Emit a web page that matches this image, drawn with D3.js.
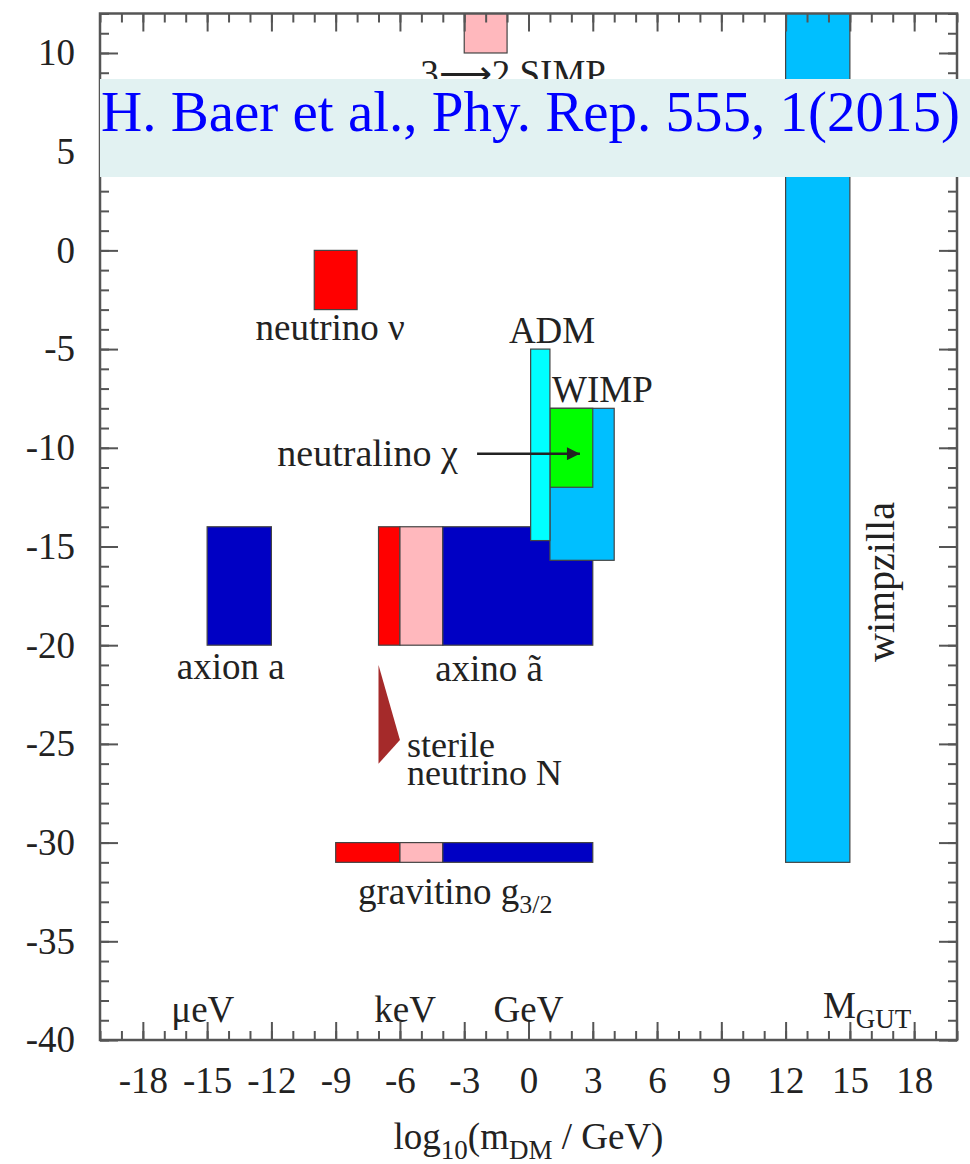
<!DOCTYPE html>
<html lang="en">
<head>
<meta charset="UTF-8">
<title>Dark matter candidates</title>
<script src="https://d3js.org/d3.v7.min.js"></script>
<style>
  body { margin: 0; background: #fff; }
  svg text { font-family: "Liberation Serif", "Times New Roman", serif; fill: #222; }
</style>
</head>
<body>
<script>
// candidate regions: log10(m/GeV) range and log10(sigma) range
const regionNames = ["axino hot", "axino warm", "axino cold", "WIMP", "neutralino", "ADM",
                     "SIMP", "neutrino", "axion", "gravitino hot", "gravitino warm", "gravitino cold", "wimpzilla"];
const massLo  = [-7, -6, -4, 1, 1, 0.1, -3, -10, -15, -9, -6, -4, 12];
const massHi  = [-6, -4, 3, 4, 3, 1, -1, -8, -12, -6, -4, 3, 15];
const sigmaLo = [-20, -20, -20, -15.7, -12, -14.7, 10, -3, -20, -31, -31, -31, -31];
const sigmaHi = [-14, -14, -14, -8, -8, -5, 14, 0, -14, -30, -30, -30, 14];
const regionKind = ["hot", "warm", "cold", "wimp", "neutralino", "adm",
                    "warm", "hot", "cold", "hot", "warm", "cold", "wimp"];

// sterile neutrino wedge
const sterileMass  = [-7, -6, -7];
const sterileSigma = [-21, -24.8, -26];

// neutralino arrow
const arrowMass  = [-2.4, 2.4];
const arrowSigma = [-10.3, -10.3];

// axes
const xTicks = [-18, -15, -12, -9, -6, -3, 0, 3, 6, 9, 12, 15, 18];
const yTicks = [-40, -35, -30, -25, -20, -15, -10, -5, 0, 5, 10];

const kindColor = {
  hot: "#ff0000", warm: "#ffb8bd", cold: "#0000c4",
  wimp: "#00bfff", neutralino: "#00ff00", adm: "#00ffff"
};

const W = 970, H = 1164;
const pLeft = 100, pRight = 957, pTop = 13.5, pBottom = 1040;

const x = d3.scaleLinear().domain([-20, 20]).range([pLeft, pRight]);
const y = d3.scaleLinear().domain([-40, 12]).range([pBottom, pTop]);

const svg = d3.select("body").append("svg")
  .attr("width", W).attr("height", H);

svg.append("rect").attr("width", W).attr("height", H).attr("fill", "#fff");

svg.append("clipPath").attr("id", "plot")
  .append("rect").attr("x", pLeft).attr("y", pTop)
  .attr("width", pRight - pLeft).attr("height", pBottom - pTop);

const plot = svg.append("g").attr("clip-path", "url(#plot)");

plot.selectAll("rect.region")
  .data(regionNames.map((n, i) => i))
  .enter().append("rect")
  .attr("class", "region")
  .attr("x", i => x(massLo[i]))
  .attr("width", i => x(massHi[i]) - x(massLo[i]))
  .attr("y", i => y(sigmaHi[i]))
  .attr("height", i => y(sigmaLo[i]) - y(sigmaHi[i]))
  .attr("fill", i => kindColor[regionKind[i]])
  .attr("stroke", "#444")
  .attr("stroke-width", 1.2);

plot.append("path")
  .attr("d", d3.line()(sterileMass.map((m, i) => [x(m), y(sterileSigma[i])])) + "Z")
  .attr("fill", "#a52a2a");

svg.append("defs").append("marker")
  .attr("id", "head").attr("viewBox", "0 0 10 10")
  .attr("refX", 10).attr("refY", 5)
  .attr("markerWidth", 6.5).attr("markerHeight", 5)
  .attr("markerUnits", "strokeWidth")
  .attr("orient", "auto")
  .append("path").attr("d", "M0,0L10,5L0,10Z").attr("fill", "#222");

plot.append("line")
  .attr("x1", x(arrowMass[0])).attr("y1", y(arrowSigma[0]))
  .attr("x2", x(arrowMass[1])).attr("y2", y(arrowSigma[1]))
  .attr("stroke", "#222").attr("stroke-width", 2.6)
  .attr("marker-end", "url(#head)");

// axes, ticks pointing inward
function styleAxis(g) {
  g.select(".domain").remove();
  g.selectAll(".tick line").attr("stroke", "#555").attr("stroke-width", 2);
  g.selectAll(".tick text").attr("font-size", 37).attr("fill", "#222")
    .attr("font-family", "Liberation Serif, Times New Roman, serif");
}
const minorX = d3.range(-20, 21), minorY = d3.range(-40, 13);
const plain = d => String(d);

svg.append("g").attr("transform", `translate(0,${pBottom})`)
  .call(d3.axisBottom(x).tickValues(minorX).tickSizeInner(-9).tickSizeOuter(0).tickFormat(""))
  .call(styleAxis);
svg.append("g").attr("transform", `translate(0,${pBottom})`)
  .call(d3.axisBottom(x).tickValues(xTicks).tickSizeInner(-18).tickSizeOuter(0).tickPadding(27).tickFormat(plain))
  .call(styleAxis);
svg.append("g").attr("transform", `translate(0,${pTop})`)
  .call(d3.axisTop(x).tickValues(minorX).tickSizeInner(-9).tickSizeOuter(0).tickFormat(""))
  .call(styleAxis);
svg.append("g").attr("transform", `translate(0,${pTop})`)
  .call(d3.axisTop(x).tickValues(xTicks).tickSizeInner(-18).tickSizeOuter(0).tickFormat(""))
  .call(styleAxis);

svg.append("g").attr("transform", `translate(${pLeft},0)`)
  .call(d3.axisLeft(y).tickValues(minorY).tickSizeInner(-9).tickSizeOuter(0).tickFormat(""))
  .call(styleAxis);
svg.append("g").attr("transform", `translate(${pLeft},0)`)
  .call(d3.axisLeft(y).tickValues(yTicks).tickSizeInner(-18).tickSizeOuter(0).tickPadding(25).tickFormat(plain))
  .call(styleAxis);
svg.append("g").attr("transform", `translate(${pRight},0)`)
  .call(d3.axisRight(y).tickValues(minorY).tickSizeInner(-9).tickSizeOuter(0).tickFormat(""))
  .call(styleAxis);
svg.append("g").attr("transform", `translate(${pRight},0)`)
  .call(d3.axisRight(y).tickValues(yTicks).tickSizeInner(-18).tickSizeOuter(0).tickFormat(""))
  .call(styleAxis);

svg.append("rect")
  .attr("x", pLeft).attr("y", pTop)
  .attr("width", pRight - pLeft).attr("height", pBottom - pTop)
  .attr("fill", "none").attr("stroke", "#555").attr("stroke-width", 2.5);

// labels inside the plot
function label(txt, m, s, anchor, size) {
  return svg.append("text")
    .attr("x", x(m)).attr("y", y(s))
    .attr("text-anchor", anchor || "start")
    .attr("font-size", size || 37)
    .text(txt);
}
label("3\u27f62 SIMP", -5.05, 8.35);
label("neutrino \u03bd", -9.26, -4.56, "middle");
label("ADM", 1.1, -4.7, "middle");
label("WIMP", 1.1, -7.7);
label("neutralino \u03c7", -3.3, -10.9, "end", 38);
label("axion a", -13.9, -21.7, "middle");
label("axino \u00e3", -1.84, -21.8, "middle");
label("sterile", -5.67, -25.65, "start", 36);
label("neutrino N", -5.67, -27.1, "start", 36);
const grav = label("gravitino g", -7.96, -33.1);
grav.append("tspan").attr("font-size", 26).attr("dy", 9).text("3/2");
label("\u03bceV", -15.2, -39.1, "middle");
label("keV", -5.76, -39.1, "middle");
label("GeV", 0, -39.1, "middle");
const mgut = label("M", 13.74, -38.9);
mgut.append("tspan").attr("font-size", 27).attr("dy", 10).text("GUT");

svg.append("text")
  .attr("transform", `translate(${x(17.05)},${y(-16.8)}) rotate(-90)`)
  .attr("text-anchor", "middle")
  .attr("font-size", 40)
  .text("wimpzilla");

// x axis title
const xt = svg.append("text")
  .attr("x", x(0)).attr("y", 1149)
  .attr("text-anchor", "middle")
  .attr("font-size", 37);
xt.append("tspan").text("log");
xt.append("tspan").attr("font-size", 27).attr("dy", 10).text("10");
xt.append("tspan").attr("dy", -10).text("(m");
xt.append("tspan").attr("font-size", 27).attr("dy", 10).text("DM");
xt.append("tspan").attr("dy", -10).text(" / GeV)");

// citation banner
svg.append("rect")
  .attr("x", pLeft).attr("y", 79).attr("width", W - pLeft).attr("height", 98)
  .attr("fill", "#e2f2f2");
svg.append("text")
  .attr("x", 101).attr("y", 131)
  .attr("font-size", 57)
  .style("fill", "#0000ff")
  .text("H. Baer et al., Phy. Rep. 555, 1(2015)");
</script>
</body>
</html>
